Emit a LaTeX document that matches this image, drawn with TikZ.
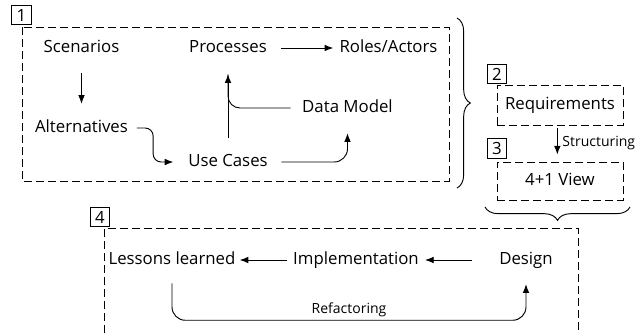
\documentclass[tikz,border=0pt]{standalone}
\usepackage{fontspec}
\setmainfont{Open Sans}
\usetikzlibrary{arrows.meta,decorations.pathreplacing}
\tikzset{
  txt/.style={inner sep=0pt, text height=9pt, text depth=3pt, font=\fontsize{12.6}{15}\selectfont},
  smalltxt/.style={inner sep=2pt, font=\fontsize{10.5}{12}\selectfont},
  numbox/.style={draw, line width=0.6pt, inner sep=0pt, minimum size=14.6pt, font=\fontsize{12.6}{15}\selectfont},
  dashbox/.style={draw, line width=0.7pt, dash pattern={on 6pt off 3pt}},
  arr/.style={line width=0.7pt, -{Latex[length=6.5pt,width=5pt]}},
  brc/.style={line width=0.7pt, decorate, decoration={brace, amplitude=10pt}}
}
\begin{document}
\begin{tikzpicture}[x=0.75pt,y=0.75pt,yscale=-1,xscale=1]
%set diagram left start at 0, and has height of 333
\path[use as bounding box] (0,0) rectangle (635,333);

%Shape: Rectangle [id:box1] 
\draw[dashbox] (22,27) rectangle (449,181);
% Text Node
\draw (21.5,15) node [numbox] (lbl1) {1};
% Text Node
\draw (81.5,48) node [txt] (scen) {Scenarios};
% Text Node
\draw (228,48) node [txt] (proc) {Processes};
% Text Node
\draw (388.5,48) node [txt] (roles) {Roles/Actors};
% Text Node
\draw (81.5,128) node [txt] (alt) {Alternatives};
% Text Node
\draw (228,162) node [txt] (uc) {Use Cases};
% Text Node
\draw (347.5,108) node [txt] (dm) {Data Model};

%Straight Lines [id:scen-alt] 
\draw[arr, shorten <=12.75pt, shorten >=12pt] (scen) -- (alt);
%Straight Lines [id:proc-roles] 
\draw[arr, shorten <=10.5pt, shorten >=4.5pt] (proc) -- (roles);
%Straight Lines [id:uc-proc] 
\draw[arr, shorten <=12pt, shorten >=13.5pt] (uc) -- (proc);
%Curve Lines [id:dm-proc] 
\draw[line width=0.7pt, rounded corners=9pt, shorten <=8.5pt, shorten >=13.5pt] (dm.west) -| (proc.south);
%Curve Lines [id:alt-uc] 
\draw[arr, rounded corners=6pt, shorten <=6.5pt, shorten >=11pt] (alt.east) -- ++(25,0) |- (uc.west);
%Curve Lines [id:uc-dm] 
\draw[arr, rounded corners=10pt, shorten <=10pt, shorten >=12.75pt] (uc.east) -| (dm.south);

%Shape: Brace [id:brace1] 
\draw[brc] (457,18) -- (457,188);

%Shape: Rectangle [id:box2] 
\draw (560,105) node [dashbox, txt, minimum width=94.5pt, minimum height=30pt] (req) {Requirements};
% Text Node
\draw (497,74) node [numbox] (lbl2) {2};
%Shape: Rectangle [id:box3] 
\draw (560,181) node [dashbox, txt, minimum width=94.5pt, minimum height=28.5pt] (view) {4+1 View};
% Text Node
\draw (497,148.5) node [numbox] (lbl3) {3};
%Straight Lines [id:req-view] 
\draw[arr, shorten <=2.25pt, shorten >=5.25pt] ([xshift=-2pt]req.south) -- ([xshift=-2pt]view.north) node [midway, right, smalltxt, inner sep=3.5pt] {Structuring};

%Shape: Brace [id:brace2] 
\draw[brc] (630,207) -- (485,207);

%Shape: Open Rectangle [id:box4] 
\draw[dashbox] (104,333) -- (104,228.5) -- (578,228.5) -- (578,333);
% Text Node
\draw (100,217) node [numbox] (lbl4) {4};
% Text Node
\draw (172,260) node [txt] (lessons) {Lessons learned};
% Text Node
\draw (356,260) node [txt] (impl) {Implementation};
% Text Node
\draw (526,260) node [txt] (design) {Design};

%Straight Lines [id:design-impl] 
\draw[arr, shorten <=20pt, shorten >=4.5pt] (design) -- (impl);
%Straight Lines [id:impl-lessons] 
\draw[arr, shorten <=4.5pt, shorten >=3pt] (impl) -- (lessons);
%Curve Lines [id:refactoring] 
\draw[arr, rounded corners=10pt, shorten <=11.25pt, shorten >=12pt] (lessons.south) -- ++(0,52) -| node [pos=0.25, above, smalltxt] {Refactoring} (design.south);

\end{tikzpicture}
\end{document}
